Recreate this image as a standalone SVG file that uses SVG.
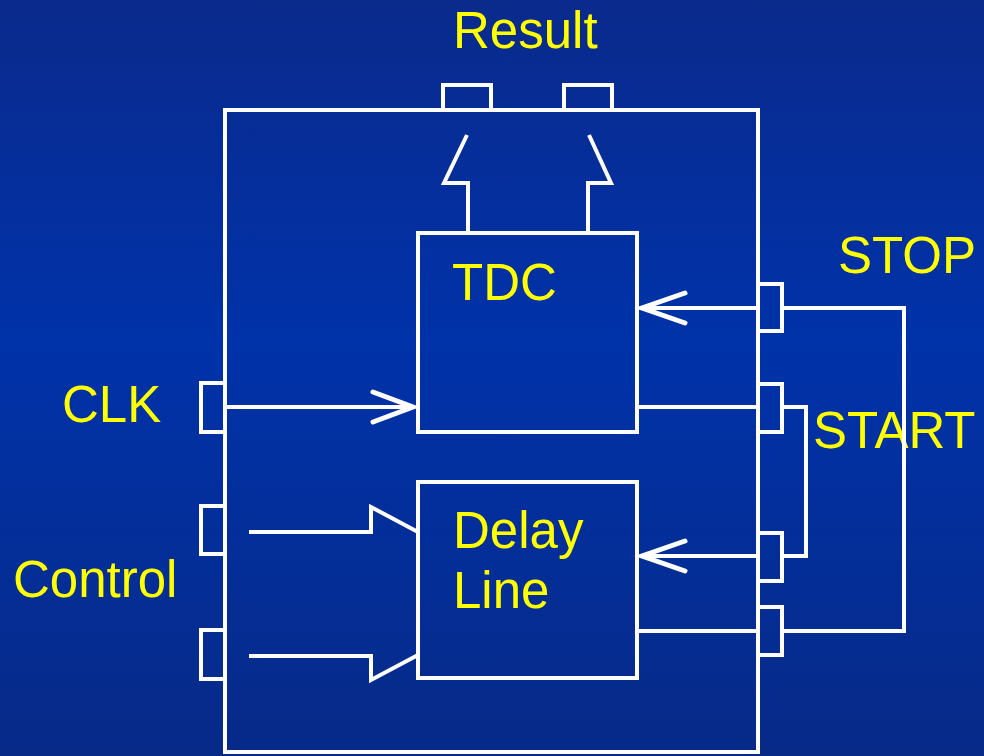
<svg xmlns="http://www.w3.org/2000/svg" width="984" height="756" viewBox="0 0 984 756">
<defs>
<linearGradient id="bg" x1="0" y1="0" x2="0" y2="1">
<stop offset="0" stop-color="#0a2a8c"/>
<stop offset="0.45" stop-color="#0032a9"/>
<stop offset="1" stop-color="#072a88"/>
</linearGradient>
<style>
.w{fill:none;stroke:#ffffff;stroke-width:4;stroke-linejoin:miter}
.ah{fill:none;stroke:#ffffff;stroke-width:5;stroke-linecap:round;stroke-linejoin:miter}
.t{fill:#ffff00;font-family:"Liberation Sans",Arial,sans-serif;font-size:51px}
</style>
</defs>
<rect width="984" height="756" fill="url(#bg)"/>

<g id="chip">
<rect class="w" x="225" y="110" width="533" height="642"/>
</g>
<g id="ports">
<path class="w" d="M443,110 V85 H491 V110"/>
<path class="w" d="M564,110 V85 H612 V110"/>
<path class="w" d="M225,383 H201 V432 H225"/>
<path class="w" d="M225,506 H201 V554 H225"/>
<path class="w" d="M225,630 H201 V679 H225"/>
<path class="w" d="M758,284 H782 V331 H758"/>
<path class="w" d="M758,384 H782 V432 H758"/>
<path class="w" d="M758,533 H782 V581 H758"/>
<path class="w" d="M758,607 H782 V655 H758"/>
</g>
<g id="tdc">
<rect class="w" x="418" y="233" width="219" height="199"/>
<text class="t" x="452" y="300">TDC</text>
</g>
<g id="delay">
<rect class="w" x="418" y="482" width="219" height="196"/>
<text class="t" x="453" y="548">Delay</text>
<text class="t" x="453" y="608">Line</text>
</g>
<g id="labels">
<text class="t" x="453" y="48">Result</text>
<text class="t" x="838" y="273">STOP</text>
<text class="t" x="813" y="448">START</text>
<text class="t" x="62" y="422">CLK</text>
<text class="t" x="13" y="597">Control</text>
</g>
<g id="connectors">
<path class="w" d="M468,233 V183 H444 L467,135"/>
<path class="w" d="M588,233 V183 H611 L589,135"/>
<path class="w" d="M225,407 H414"/>
<path class="ah" d="M373,392 L413,407 L373,422"/>
<path class="w" d="M758,308 H642"/>
<path class="ah" d="M685,293 L642,308 L685,323"/>
<path class="w" d="M758,556 H642"/>
<path class="ah" d="M685,541 L642,556 L685,571"/>
<path class="w" d="M637,407 H758"/>
<path class="w" d="M782,407 H806 V556 H782"/>
<path class="w" d="M782,308 H904 V631 H782"/>
<path class="w" d="M637,631 H758"/>
<path class="w" d="M249,532 H371 V507 L418,532"/>
<path class="w" d="M249,656 H371 V680 L418,655"/>
</g>
</svg>
